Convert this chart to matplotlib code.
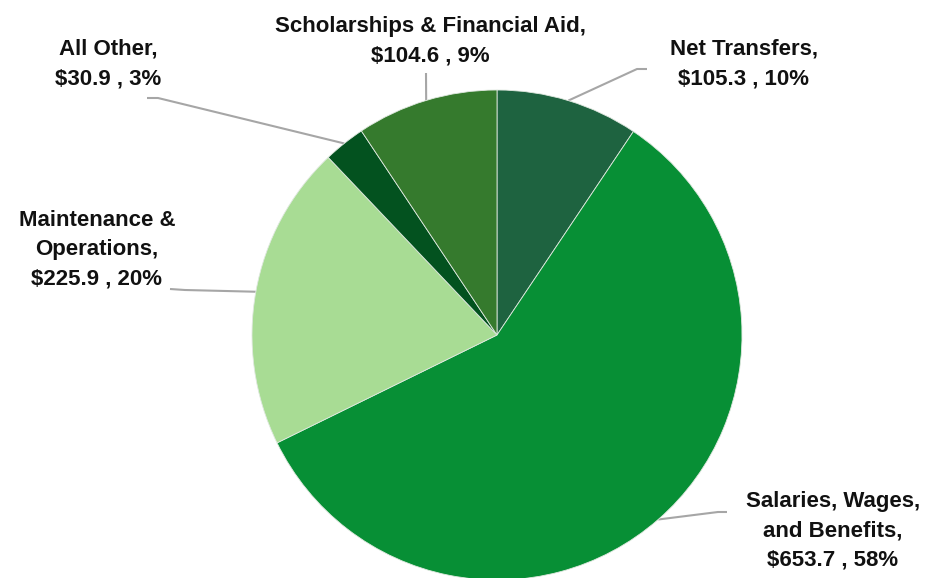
import matplotlib
matplotlib.use("Agg")
import matplotlib.pyplot as plt
import numpy as np

categories = ["Net Transfers", "Salaries, Wages,\nand Benefits", "Maintenance &\nOperations",
              "All Other", "Scholarships & Financial Aid"]
values = [105.3, 653.7, 225.9, 30.9, 104.6]
percents = [10, 58, 20, 3, 9]
colors = ["#1e6340", "#078f35", "#a8dc94", "#03521f", "#357a2d"]

W, H = 927, 578
fig = plt.figure(figsize=(W / 100, H / 100), dpi=100)
ax = fig.add_axes([0, 0, 1, 1])
cx, cy, R = 497, H - 335, 245
wedges, _ = ax.pie(values, colors=colors, startangle=90, counterclock=False,
                   center=(cx, cy), radius=R, frame=True,
                   wedgeprops=dict(edgecolor="#dfe8df", linewidth=0.6))
ax.set_xlim(0, W)
ax.set_ylim(0, H)
ax.set_aspect("equal")
ax.axis("off")

# layout: (text center x, text center y in px from top, leader path points in px from top after edge)
layout = [
    (744, 64, [(637, 69), (647, 69)]),
    (833, 531, [(718, 512), (727, 512)]),
    (97, 250, [(185, 290), (170, 289)]),
    (108, 64, [(158, 98), (147, 98)]),
    (430, 41, [(426, 73)]),
]

font = dict(family=["Liberation Sans", "DejaVu Sans"], fontsize=16, fontweight="bold",
            color="#111111")

for w, cat, v, p, (tx, ty, path) in zip(wedges, categories, values, percents, layout):
    mid = np.deg2rad((w.theta1 + w.theta2) / 2)
    ex, ey = cx + R * np.cos(mid), cy + R * np.sin(mid)
    xs = [ex] + [q[0] for q in path]
    ys = [ey] + [H - q[1] for q in path]
    ax.plot(xs, ys, color="#a6a6a6", lw=1.5, solid_capstyle="butt", zorder=0.5)
    label = f"{cat},\n${v:.1f} , {p}%"
    ax.text(tx, H - ty, label, ha="center", va="center", linespacing=1.52, **font)

fig.savefig("out.png", dpi=100)
